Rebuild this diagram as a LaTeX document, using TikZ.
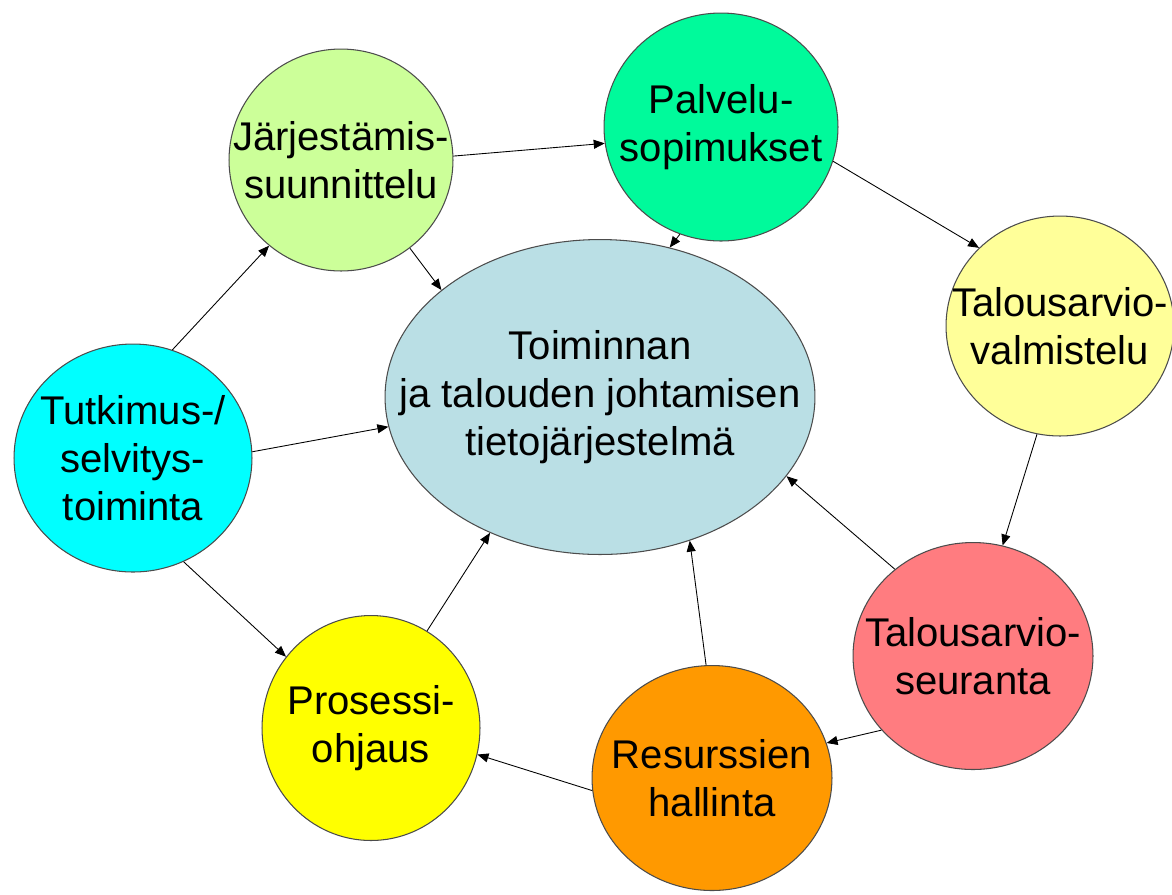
\documentclass[tikz,border=0pt]{standalone}
\usepackage{fontspec}
\setmainfont{Liberation Sans}
\usepackage{xcolor}
\usetikzlibrary{arrows.meta,shapes.geometric}

\definecolor{systemblue}{RGB}{186,223,229}
\definecolor{orggreen}{RGB}{204,255,153}
\definecolor{servicegreen}{RGB}{0,250,155}
\definecolor{prepyellow}{RGB}{255,255,153}
\definecolor{followred}{RGB}{255,124,128}
\definecolor{resorange}{RGB}{255,153,0}
\definecolor{procyellow}{RGB}{255,255,0}
\definecolor{researchcyan}{RGB}{0,255,255}

\begin{document}
\begin{tikzpicture}[
        x=0.02cm, y=-0.02cm,
        bubble/.style={draw=black!70, line width=0.6pt, ellipse, inner sep=0pt},
        txt/.style={align=center, inner sep=0pt, font=\fontsize{22.8}{27.3}\selectfont},
        arr/.style={-{Triangle[length=2.2mm, width=1.8mm]}, line width=0.5pt},
    ]
        \useasboundingbox (0,0) rectangle (1172,894);

        \node[bubble, fill=systemblue, minimum width=8.6cm, minimum height=6.3cm,
              label={[txt]center:Toiminnan\\ja talouden johtamisen\\tietojärjestelmä}] (system) at (600,397) {};
        \node[bubble, fill=orggreen, minimum width=4.48cm, minimum height=4.44cm,
              label={[txt]center:Järjestämis-\\suunnittelu}] (org) at (341,160) {};
        \node[bubble, fill=servicegreen, minimum width=4.68cm, minimum height=4.56cm,
              label={[txt]center:Palvelu-\\sopimukset}] (service) at (721,127) {};
        \node[bubble, fill=prepyellow, minimum width=4.56cm, minimum height=4.4cm,
              label={[txt]center:Talousarvio-\\valmistelu}] (budgetprep) at (1060,326) {};
        \node[bubble, fill=followred, minimum width=4.8cm, minimum height=4.54cm,
              label={[txt]center:Talousarvio-\\seuranta}] (budgetfollow) at (973,656) {};
        \node[bubble, fill=resorange, minimum width=4.8cm, minimum height=4.5cm,
              label={[txt]center:Resurssien\\hallinta}] (resources) at (712,778) {};
        \node[bubble, fill=procyellow, minimum width=4.36cm, minimum height=4.5cm,
              label={[txt]center:Prosessi-\\ohjaus}] (process) at (371,728) {};
        \node[bubble, fill=researchcyan, minimum width=4.76cm, minimum height=4.56cm,
              label={[txt]center:Tutkimus-/\\selvitys-\\toiminta}] (research) at (133,458) {};

        % outer cycle
        \draw[arr] (org.2) -- (service.188);
        \draw[arr] (service.-17) -- (budgetprep.136);
        \draw[arr] (budgetprep.-102) -- (budgetfollow.75);
        \draw[arr] (budgetfollow.-141) -- (resources.17);
        \draw[arr] (resources.186) -- (process.-14);
        \draw[arr] (research.-64) -- (process.140);
        \draw[arr] (research.70) -- (org.-130);

        % into the system
        \draw[arr] (research.3) -- (system.188);
        \draw[arr] (org.-52) -- (system.146);
        \draw[arr] (service.-111) -- (system.65);
        \draw[arr] (budgetfollow.132) -- (system.-23);
        \draw[arr] (resources.93) -- (system.-58);
        \draw[arr] (process.60) -- (system.-129);
    \end{tikzpicture}
\end{document}
